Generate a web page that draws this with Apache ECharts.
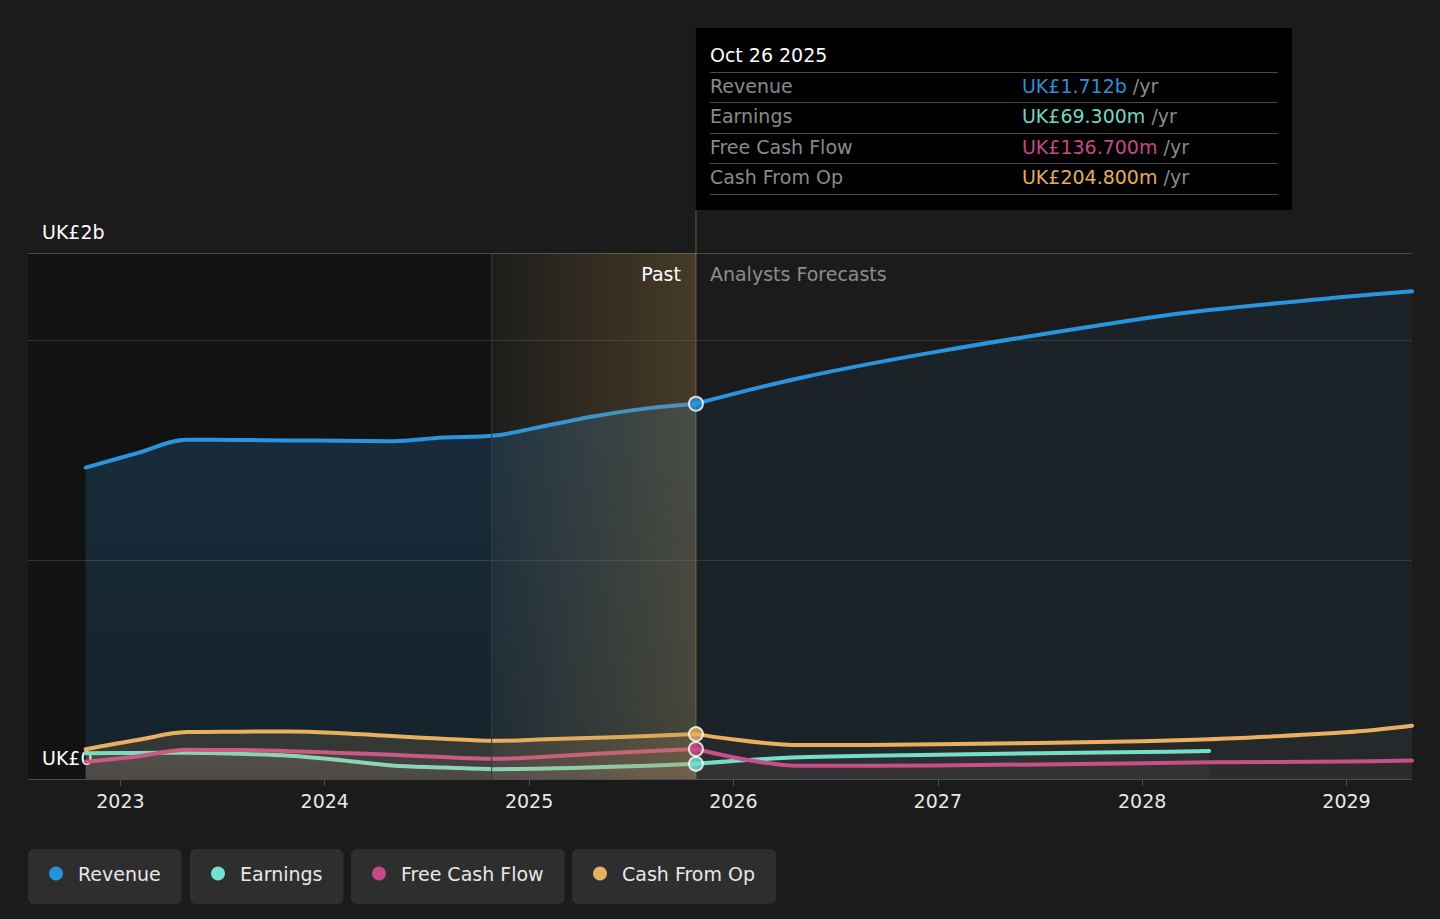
<!DOCTYPE html>
<html>
<head>
<meta charset="utf-8">
<script src="https://cdn.jsdelivr.net/npm/echarts@6/dist/echarts.min.js"></script>
<style>
html,body{margin:0;padding:0;background:#1b1b1b;}
#c{width:1440px;height:919px;}
</style>
</head>
<body>
<div id="c"></div>
<script>
// ---------- data (values in UK£ billions) ----------
const pastDates = ['2022-10-31','2023-01-31','2023-04-30','2023-07-31','2023-10-31','2024-01-31','2024-04-30','2024-07-31','2024-10-31','2025-01-31','2025-04-30','2025-07-31','2025-10-26'];
const revenuePast  = [1.421, 1.487, 1.548, 1.547, 1.545, 1.543, 1.541, 1.558, 1.567, 1.612, 1.656, 1.691, 1.712];
const earningsPast = [0.118, 0.119, 0.120, 0.115, 0.106, 0.086, 0.062, 0.053, 0.045, 0.048, 0.054, 0.061, 0.0693];
const fcfPast      = [0.079, 0.103, 0.133, 0.132, 0.127, 0.119, 0.111, 0.100, 0.092, 0.102, 0.115, 0.127, 0.1367];
const cfoPast      = [0.136, 0.178, 0.214, 0.216, 0.217, 0.209, 0.196, 0.184, 0.174, 0.181, 0.188, 0.196, 0.2048];

const forecastDates    = ['2025-10-26','2026-04-30','2026-12-31','2027-12-31','2028-04-30','2028-12-31','2029-04-28'];
const revenueForecast  = [1.712, 1.830, 1.950, 2.100, 2.140, 2.200, 2.225];
const earningsForecast = [0.0693, 0.099, 0.111, 0.123, 0.128];
const fcfForecast      = [0.1367, 0.060, 0.062, 0.072, 0.076, 0.080, 0.084];
const cfoForecast      = [0.2048, 0.155, 0.158, 0.172, 0.181, 0.213, 0.243];

const seriesNames = ['Revenue', 'Earnings', 'Free Cash Flow', 'Cash From Op'];
const yTickLabels = {0: 'UK£0', 2.4: 'UK£2b'};
const yearTicks = [2023, 2024, 2025, 2026, 2027, 2028, 2029];
const xMin = '2022-07-20';
const xMax = '2029-04-28';
const highlightStart = '2024-10-26';
const nowDate = '2025-10-26';

const tipTitle = 'Oct 26 2025';
const tipValues = ['UK£1.712b', 'UK£69.300m', 'UK£136.700m', 'UK£204.800m'];

// ---------- helpers ----------
function toYear(d) {
  const t = Date.parse(d + 'T00:00:00Z');
  const y = new Date(t).getUTCFullYear();
  const s = Date.UTC(y, 0, 1), e = Date.UTC(y + 1, 0, 1);
  return y + (t - s) / (e - s);
}

// ---------- styles ----------
const FONT = 'DejaVu Sans';
const lineColors = ['#2a94de', '#72e2cb', '#c64b8c', '#e8b060'];
const tipColors  = ['#2f8fd8', '#6fd8c3', '#c4498a', '#e5ad5e'];
const legendColors = ['#2394df', '#6fe3d0', '#c24a88', '#e6b062'];

function vgrad(c1, c2) {
  return {type:'linear', x:0, y:0, x2:0, y2:1, colorStops:[{offset:0,color:c1},{offset:1,color:c2}]};
}
const pastAreas = [
  vgrad('rgba(43,144,217,0.30)', 'rgba(43,144,217,0.18)'),
  vgrad('rgba(215,225,220,0.16)', 'rgba(215,225,220,0.09)'),
  'rgba(225,150,175,0.12)',
  'rgba(232,176,96,0.22)'
];
const fcAreas = [
  'rgba(43,144,217,0.10)',
  'rgba(210,215,215,0.06)',
  'rgba(210,110,150,0.06)',
  'rgba(232,176,96,0.07)'
];

function zip(dates, vals) { return vals.map((v, i) => [toYear(dates[i]), v]); }

function mk(idx, dates, vals, area) {
  return {
    type: 'line', name: seriesNames[idx],
    data: zip(dates, vals),
    smooth: 0.35, symbol: 'none', silent: true,
    emphasis: {disabled: true},
    lineStyle: {width: 4, color: lineColors[idx], cap: 'round', join: 'round'},
    itemStyle: {color: lineColors[idx]},
    areaStyle: {color: area, origin: 'start'},
    z: 2 + idx
  };
}

const pastSets = [revenuePast, earningsPast, fcfPast, cfoPast];
const fcSets = [revenueForecast, earningsForecast, fcfForecast, cfoForecast];
const series = [];
for (let i = 0; i < 4; i++) {
  series.push(mk(i, pastDates, pastSets[i], pastAreas[i]));
  series.push(mk(i, forecastDates, fcSets[i], fcAreas[i]));
}
series.push({
  type: 'scatter', silent: true, z: 20,
  symbol: 'circle', symbolSize: 14,
  itemStyle: {borderColor: '#ffffff', borderWidth: 2},
  data: [3, 2, 1, 0].map(i => ({
    value: [toYear(nowDate), pastSets[i][pastSets[i].length - 1]],
    itemStyle: {color: legendColors[i]}
  }))
});

const legendLefts = [28, 190, 351, 572];
const legends = seriesNames.map((n, i) => ({
  data: [{name: n, itemStyle: {color: legendColors[i]}}],
  left: legendLefts[i], top: 849,
  orient: 'horizontal',
  backgroundColor: '#2e2e2e', borderRadius: 6,
  padding: [15, 21, 21, 21],
  icon: 'circle', itemWidth: 14, itemHeight: 14,
  itemStyle: {borderWidth: 0},
  selectedMode: false,
  textStyle: {color: '#e8e8e8', fontSize: 19, fontFamily: FONT, padding: [0, 0, 0, 10]}
}));

const option = {
  backgroundColor: '#1b1b1b',
  animation: false,
  textStyle: {fontFamily: FONT},
  grid: {left: 28, right: 28, top: 253, bottom: 140, containLabel: false, outerBoundsMode: 'none'},
  xAxis: {
    type: 'value', min: toYear(xMin), max: toYear(xMax),
    axisLine: {show: true, onZero: false, lineStyle: {color: '#4e4e4e', width: 1}},
    axisTick: {show: true, length: 7, customValues: yearTicks, lineStyle: {color: '#4e4e4e'}},
    axisLabel: {
      customValues: yearTicks,
      formatter: v => String(Math.round(v)),
      color: '#e8e8e8', fontSize: 19, fontFamily: FONT, margin: 12
    },
    splitLine: {show: false}
  },
  yAxis: {
    type: 'value', min: 0, max: 2.4, interval: 1,
    axisLine: {show: false}, axisTick: {show: false},
    splitLine: {show: true, lineStyle: {color: ['#444444', '#343434', '#343434', '#4b4b4b'], width: 1}},
    axisLabel: {
      inside: true, margin: 14,
      formatter: v => (yTickLabels[v] !== undefined ? yTickLabels[v] : ''),
      color: '#ffffff', fontSize: 19, fontFamily: FONT,
      verticalAlign: 'bottom', padding: [0, 0, 12, 0]
    }
  },
  legend: legends,
  series: series
};

const chart = echarts.init(document.getElementById('c'), null, {renderer: 'svg', width: 1440, height: 919});
chart.setOption(option);

// ---------- overlay graphics positioned through the axes ----------
const P = (d, v) => chart.convertToPixel({gridIndex: 0}, [toYear(d), v]);
const [xLeft, yBot] = P(xMin, 0);
const [xHi] = P(highlightStart, 0);
const [xNow, yTop] = P(nowDate, 2.4);

function txt(x, y, text, fill, align) {
  return {
    type: 'text', x: x, y: y, z: 40, silent: true,
    style: {
      text: text, fill: fill, fontSize: 19, fontFamily: FONT,
      align: align, textAlign: align, verticalAlign: 'middle', textVerticalAlign: 'middle'
    }
  };
}

const tipTop = 28, tipH = 182, tipW = 596;
const graphics = [
  {type: 'rect', z: -10, silent: true, shape: {x: xLeft, y: yTop, width: xHi - xLeft, height: yBot - yTop}, style: {fill: 'rgba(0,0,0,0.30)'}},
  {type: 'rect', z: 10, silent: true, shape: {x: xHi, y: yTop, width: xNow - xHi, height: yBot - yTop},
    style: {fill: {type: 'linear', x: 0, y: 0, x2: 1, y2: 0, colorStops: [{offset: 0, color: 'rgba(180,140,70,0.02)'}, {offset: 1, color: 'rgba(180,140,70,0.28)'}]}}},
  {type: 'line', z: 11, silent: true, shape: {x1: xHi, y1: yTop, x2: xHi, y2: yBot}, style: {stroke: '#3c3c3c', lineWidth: 1}},
  {type: 'line', z: 11, silent: true, shape: {x1: xNow, y1: tipTop + tipH, x2: xNow, y2: yBot}, style: {stroke: 'rgba(170,140,90,0.38)', lineWidth: 1.5}},
  txt(xNow - 15, yTop + 21, 'Past', '#ffffff', 'right'),
  txt(xNow + 14, yTop + 21, 'Analysts Forecasts', '#8c8c8c', 'left'),
  {type: 'rect', z: 30, silent: true, shape: {x: xNow, y: tipTop, width: tipW, height: tipH}, style: {fill: '#000000'}},
  txt(xNow + 14, 55, tipTitle, '#ffffff', 'left')
];
const sepYs = [72.5, 102.5, 133.5, 163.5, 194.5];
sepYs.forEach(y => graphics.push({type: 'line', z: 35, silent: true, shape: {x1: xNow + 14, y1: y, x2: xNow + 582, y2: y}, style: {stroke: '#4a4a4a', lineWidth: 1}}));
const rowYs = [86, 116, 147, 177];
seriesNames.forEach((n, i) => {
  graphics.push(txt(xNow + 14, rowYs[i], n, '#8a8a8a', 'left'));
  graphics.push({
    type: 'text', x: xNow + 326, y: rowYs[i], z: 40, silent: true,
    style: {
      text: '{v|' + tipValues[i] + '}{u| /yr}',
      align: 'left', textAlign: 'left', verticalAlign: 'middle', textVerticalAlign: 'middle',
      fontSize: 19, fontFamily: FONT,
      rich: {
        v: {fill: tipColors[i], color: tipColors[i], fontSize: 19, fontFamily: FONT},
        u: {fill: '#8a8a8a', color: '#8a8a8a', fontSize: 19, fontFamily: FONT}
      }
    }
  });
});
chart.setOption({graphic: graphics});
</script>
</body>
</html>
